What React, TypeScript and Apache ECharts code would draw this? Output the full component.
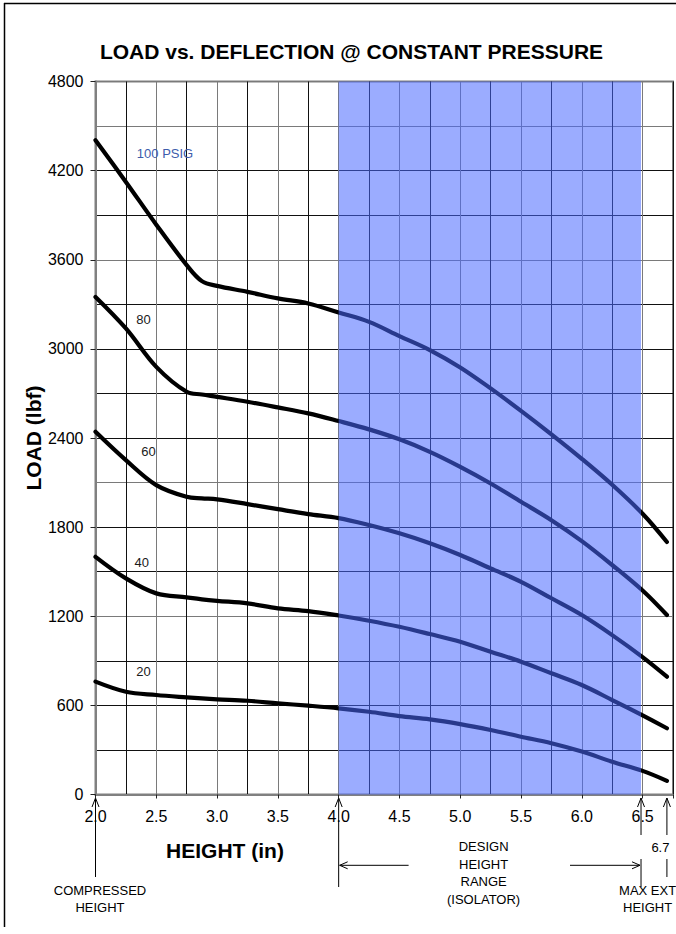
import React, { useEffect, useRef } from "react";
import * as echarts from "echarts";

// ---- data ----
const heights = [2.0, 2.25, 2.5, 2.75, 2.875, 3.0, 3.25, 3.5, 3.75, 4.0, 4.25, 4.5, 4.75, 5.0, 5.25, 5.5, 5.75, 6.0, 6.25, 6.5, 6.7];
const load100 = [4405, 4124, 3836, 3564, 3456, 3424, 3384, 3340, 3306, 3245, 3182, 3086, 2992, 2875, 2734, 2583, 2425, 2260, 2085, 1890, 1700];
const load80 = [3350, 3138, 2879, 2711, 2693, 2677, 2644, 2606, 2566, 2514, 2458, 2391, 2307, 2206, 2094, 1971, 1847, 1706, 1545, 1373, 1208];
const load60 = [2442, 2251, 2083, 2004, 1994, 1987, 1955, 1921, 1888, 1861, 1814, 1758, 1691, 1612, 1522, 1432, 1321, 1208, 1073, 925, 793];
const load40 = [1600, 1455, 1354, 1327, 1314, 1304, 1287, 1253, 1235, 1205, 1170, 1129, 1080, 1028, 961, 894, 816, 737, 636, 532, 446];
const load20 = [760, 692, 670, 654, 647, 641, 631, 614, 598, 580, 557, 528, 506, 474, 434, 389, 345, 289, 221, 159, 92];

const seriesLoads = [load100, load80, load60, load40, load20];
const curveLabels = ["100 PSIG", "80", "60", "40", "20"];
const labelHeights = [2.572, 2.394, 2.435, 2.381, 2.394];
const labelLoads = [4315, 3200, 2307, 1560, 826];

const xMin = 2.0;
const xMax = 6.75;
const yMin = 0;
const yMax = 4800;
const bandStart = 4.0;
const bandEnd = 6.487;
const compressedHeight = 2.0;
const maxExtHeight = 6.7;

const titleText = "LOAD vs. DEFLECTION @ CONSTANT PRESSURE";
const yName = "LOAD (lbf)";
const xName = "HEIGHT (in)";

const FONT = "'Liberation Sans', Arial, Helvetica, sans-serif";
const BLK = "#111111";
const GRY = "#7a7a7a";

// horizontal grid line colours every 300 lbf, from 0 to 4800
const yGridColors = [GRY, BLK, BLK, BLK, GRY, BLK, BLK, GRY, BLK, BLK, BLK, BLK, GRY, BLK, BLK, GRY, GRY];
// vertical grid line colours every 0.25 in, from 2.0
const xGridColors = [GRY, BLK];

export default function App() {
  const ref = useRef<HTMLDivElement>(null);

  useEffect(() => {
    if (!ref.current) return;
    const chart = echarts.init(ref.current, null, { renderer: "svg" });

    const lineSeries: any[] = seriesLoads.map((loads, i) => ({
      type: "line",
      name: curveLabels[i],
      data: heights.map((h, j) => [h, loads[j]]),
      showSymbol: false,
      smooth: 0.35,
      z: 3,
      lineStyle: { color: "#000", width: 4.2, cap: "round", join: "round" },
      markPoint: {
        silent: true,
        symbol: "circle",
        symbolSize: 1,
        itemStyle: { color: "rgba(0,0,0,0)" },
        label: {
          show: true,
          position: "inside",
          formatter: curveLabels[i],
          color: i === 0 ? "#3d5cab" : "#1a1a1a",
          fontSize: 13,
          fontFamily: FONT,
        },
        data: [{ coord: [labelHeights[i], labelLoads[i]] }],
      },
    }));

    lineSeries.push({
      type: "line",
      name: "band",
      data: [],
      z: 10,
      markArea: {
        silent: true,
        z: 10,
        itemStyle: { color: "rgba(73,104,255,0.55)", borderWidth: 0 },
        data: [[{ xAxis: bandStart }, { xAxis: bandEnd }]],
      },
    });

    chart.setOption({
      animation: false,
      backgroundColor: "#ffffff",
      grid: {
        left: 95.5,
        top: 81.5,
        width: 579,
        height: 713,
        show: true,
        borderColor: "#808080",
        borderWidth: 2,
        backgroundColor: "transparent",
      },
      xAxis: [
        {
          type: "value",
          min: xMin,
          max: xMax,
          interval: 0.5,
          axisLine: { show: true, lineStyle: { color: "#808080", width: 2 } },
          axisTick: { show: true, length: 4, lineStyle: { color: "#222" } },
          axisLabel: {
            color: "#000",
            fontSize: 16,
            fontFamily: FONT,
            margin: 14,
            formatter: (v: number) =>
              Math.abs(v * 2 - Math.round(v * 2)) < 1e-6 && v <= 6.5 ? v.toFixed(1) : "",
          },
          splitLine: { show: false },
        },
        {
          type: "value",
          min: xMin,
          max: xMax,
          interval: 0.25,
          axisLine: { show: false },
          axisTick: { show: false },
          axisLabel: { show: false },
          splitLine: { show: true, lineStyle: { color: xGridColors, width: 1 } },
        },
      ],
      yAxis: [
        {
          type: "value",
          min: yMin,
          max: yMax,
          interval: 600,
          axisLine: { show: true, lineStyle: { color: "#808080", width: 2 } },
          axisTick: { show: true, length: 5, lineStyle: { color: "#222" } },
          axisLabel: {
            color: "#000",
            fontSize: 16,
            fontFamily: FONT,
            margin: 12,
            formatter: (v: number) => String(Math.round(v)),
          },
          splitLine: { show: false },
        },
        {
          type: "value",
          min: yMin,
          max: yMax,
          interval: 300,
          axisLine: { show: false },
          axisTick: { show: false },
          axisLabel: { show: false },
          splitLine: { show: true, lineStyle: { color: yGridColors, width: 1 } },
        },
      ],
      series: lineSeries,
    });

    const px = (v: number) => chart.convertToPixel({ xAxisIndex: 0 }, v) as number;
    const axisY = chart.convertToPixel({ yAxisIndex: 0 }, 0) as number;
    const ay = axisY + 3.5;
    const xC = px(compressedHeight);
    const xS = px(bandStart);
    const xE = px(bandEnd);
    const xM = px(maxExtHeight);

    const stroke = { stroke: "#000", lineWidth: 1 };
    const vline = (x: number, y1: number, y2: number) => ({
      type: "line",
      shape: { x1: x, y1, x2: x, y2 },
      style: stroke,
      silent: true,
    });
    const upHead = (x: number) => ({
      type: "polyline",
      shape: { points: [[x - 3.5, ay + 9], [x, ay], [x + 3.5, ay + 9]] },
      style: { ...stroke, fill: null },
      silent: true,
    });
    const txt = (text: string, x: number, y: number, size: number, bold = false, rot = 0) => ({
      type: "text",
      x,
      y,
      rotation: rot,
      silent: true,
      style: {
        text,
        fill: "#000",
        font: `${bold ? "bold " : ""}${size}px ${FONT}`,
        align: "center",
        verticalAlign: "middle",
      },
    });

    const hy = 865.3;
    const graphics: any[] = [
      // outer border
      { type: "line", shape: { x1: 4.5, y1: 3, x2: 4.5, y2: 927 }, style: { stroke: "#000", lineWidth: 1.5 }, silent: true },
      { type: "line", shape: { x1: 4, y1: 3.5, x2: 676, y2: 3.5 }, style: { stroke: "#000", lineWidth: 1.5 }, silent: true },
      txt(titleText, 351.5, 51.3, 21, true),
      txt(yName, 33, 438, 21, true, Math.PI / 2),
      txt(xName, 225, 850.5, 21, true),
      // arrows below the axis
      vline(xC, ay, 877), upHead(xC),
      vline(xS, ay, 887), upHead(xS),
      vline(xE, ay, 835), vline(xE, 859, 887), upHead(xE),
      vline(xM, ay, 835), vline(xM, 859, 877), upHead(xM),
      txt("6.7", xM - 6.5, 847, 13),
      // design range arrows
      { type: "line", shape: { x1: xS + 1, y1: hy, x2: 408.6, y2: hy }, style: stroke, silent: true },
      { type: "polyline", shape: { points: [[xS + 9, hy - 3.5], [xS + 1, hy], [xS + 9, hy + 3.5]] }, style: { ...stroke, fill: null }, silent: true },
      { type: "line", shape: { x1: 570, y1: hy, x2: xE - 1, y2: hy }, style: stroke, silent: true },
      { type: "polyline", shape: { points: [[xE - 9, hy - 3.5], [xE - 1, hy], [xE - 9, hy + 3.5]] }, style: { ...stroke, fill: null }, silent: true },
      txt("DESIGN", 483.6, 846.7, 13),
      txt("HEIGHT", 483.6, 864.3, 13),
      txt("RANGE", 483.6, 881.7, 13),
      txt("(ISOLATOR)", 483.6, 899.3, 13),
      txt("COMPRESSED", 100, 890.7, 13),
      txt("HEIGHT", 100, 907.7, 13),
      txt("MAX EXT", 647.6, 890.7, 13),
      txt("HEIGHT", 647.6, 907.7, 13),
    ];

    chart.setOption({ graphic: graphics });

    return () => {
      chart.dispose();
    };
  }, []);

  return (
    <div
      ref={ref}
      style={{ position: "fixed", left: 0, top: 0, width: 676, height: 934, background: "#fff" }}
    />
  );
}
